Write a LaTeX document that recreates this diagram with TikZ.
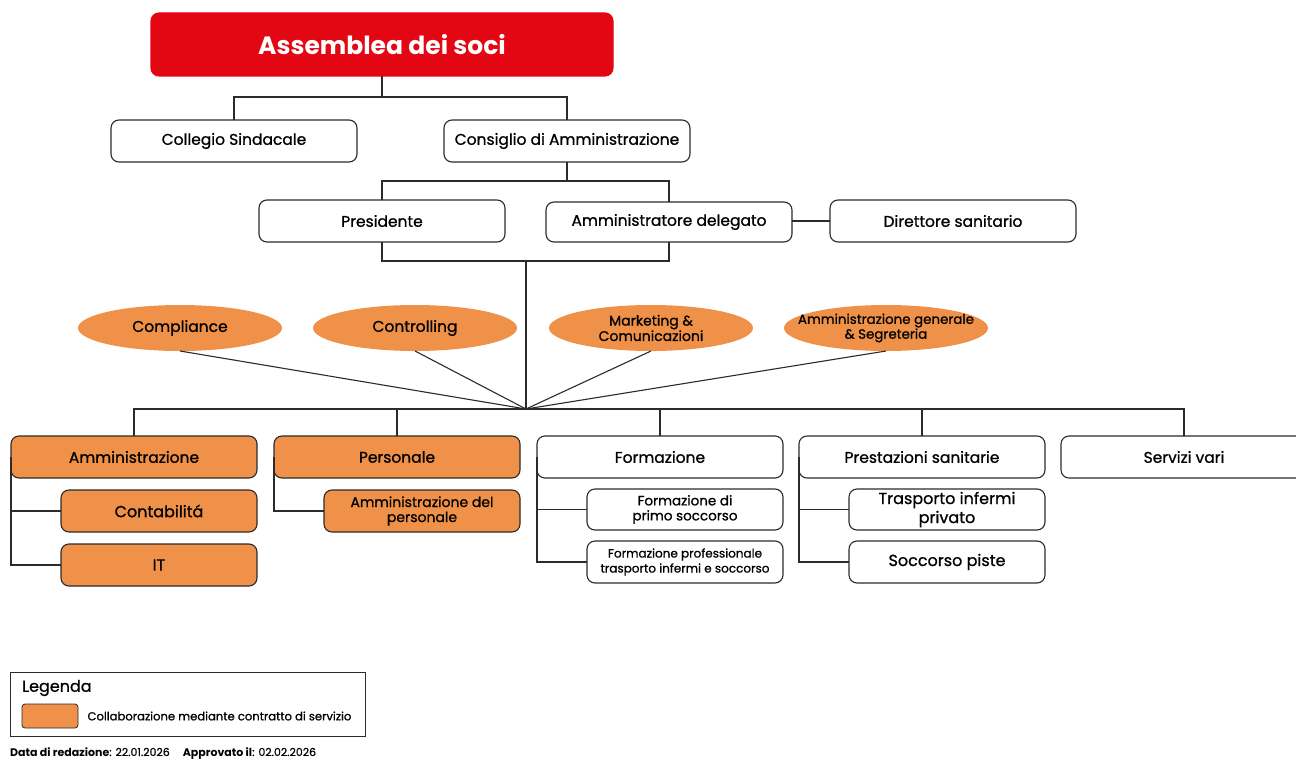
\documentclass[tikz,border=0pt]{standalone}
\usepackage{fontspec}
\setmainfont{Poppins}[UprightFeatures={FakeBold=0.9}]
\usetikzlibrary{positioning,shapes.geometric}
\definecolor{AssRed}{HTML}{E30613}
\definecolor{SrvOrange}{HTML}{F0914A}
\definecolor{LineGray}{HTML}{2B2B2B}

\begin{document}
\begin{tikzpicture}[x=1pt,y=-1pt,
                    box/.style={draw=LineGray, line width=1.1pt, rounded corners=8pt, align=center,
                                minimum width=246pt, minimum height=42pt, inner sep=1pt, outer sep=0pt,
                                font=\fontsize{15.5}{16}\selectfont},
                    orangebox/.style={box, fill=SrvOrange},
                    subbox/.style={box, minimum width=196pt},
                    oval/.style={ellipse, fill=SrvOrange, minimum width=204pt, minimum height=46pt,
                                 inner xsep=-30pt, inner ysep=0pt, outer sep=0pt, align=center,
                                 font=\fontsize{15.5}{15}\selectfont},
                    conn/.style={draw=LineGray, line width=1.1pt}]
\useasboundingbox (0,0) rectangle (1296,760);
% vertici
\node[box, draw=AssRed, fill=AssRed, text=white, minimum width=462pt, minimum height=63pt,
      font=\fontsize{25}{27}\selectfont\bfseries] (asm) at (382,44.5) {Assemblea dei soci};
\node[box] (cs) at (234,141) {Collegio Sindacale};
\node[box, right=87pt of cs] (cda) {Consiglio di Amministrazione};
\node[box] (pres) at (382,221) {Presidente};
\node[box, minimum height=40pt, right=41pt of pres.east, anchor=west, yshift=-1pt] (ad) {Amministratore delegato};
\node[box] (ds) at (953,221) {Direttore sanitario};
% staff
\node[oval] (comp) at (180,328) {Compliance};
\node[oval, right=31pt of comp] (ctrl) {Controlling};
\node[oval, right=32pt of ctrl, font=\fontsize{14}{12.5}\selectfont] (mkt) {Marketing \&\\Comunicazioni};
\node[oval, right=31pt of mkt, font=\fontsize{13.4}{12.5}\selectfont] (agen) {Amministrazione generale\\\& Segreteria};
\coordinate (hub) at (526,409);
% aree
\node[orangebox] (amm) at (134,457) {Amministrazione};
\node[orangebox, right=17pt of amm] (pers) {Personale};
\node[box, right=17pt of pers] (form) {Formazione};
\node[box, right=16pt of form] (prest) {Prestazioni sanitarie};
\node[box, right=16pt of prest] (serv) {Servizi vari};
% sottoaree
\node[orangebox, minimum width=196pt, below=12pt of amm.south east, anchor=north east,
      font=\fontsize{16}{16}\selectfont] (cont) {Contabilit\'a};
\node[orangebox, minimum width=196pt, below=12pt of cont, font=\fontsize{16}{16}\selectfont] (it) {IT};
\node[orangebox, minimum width=196pt, below=12pt of pers.south east, anchor=north east,
      font=\fontsize{14}{15}\selectfont] (ammp) {Amministrazione del\\personale};
\node[subbox, minimum height=41pt, below=11pt of form.south east, anchor=north east,
      font=\fontsize{13.5}{15}\selectfont] (fps) {Formazione di\\primo soccorso};
\node[subbox, below=11pt of fps, font=\fontsize{12}{15}\selectfont] (fpt) {Formazione professionale\\trasporto infermi e soccorso};
\node[subbox, minimum height=41pt, below=11pt of prest.south east, anchor=north east,
      font=\fontsize{16}{19}\selectfont] (tip) {Trasporto infermi\\privato};
\node[subbox, below=11pt of tip, font=\fontsize{16}{16}\selectfont] (sp) {Soccorso piste};
% connettori
\coordinate (j1) at (382,97);
\draw[conn] (asm.south) -- (j1);
\draw[conn] (cs.north) |- (j1) -| (cda.north);
\coordinate (j2) at (567,181);
\draw[conn] (cda.south) -- (j2);
\draw[conn] (pres.north) |- (j2) -| (ad.north);
\draw[conn] (pres.south) -- ++(0,19) coordinate (j3) -| (ad.south);
\draw[conn] (ds.west) -- (ds.west -| ad.east);
\draw[conn] (hub |- j3) -- (hub);
\foreach \s in {comp,ctrl,mkt,agen}
  \draw[conn] (\s.south) -- (hub);
\draw[conn] (amm.north) |- (hub) -| (serv.north);
\foreach \a in {pers,form,prest}
  \draw[conn] (\a.north) -- (\a.north |- hub);
\draw[conn] (amm.west) |- (it.west);
\draw[conn] (amm.west |- cont.west) -- (cont.west);
\draw[conn] (pers.west) |- (ammp.west);
\draw[conn, line width=1.6pt] (form.west) |- (fpt.west);
\draw[conn, line width=1.6pt] (form.west |- fps.west) -- (fps.west);
\draw[conn] (prest.west) |- (sp.west);
\draw[conn] (prest.west |- tip.west) -- (tip.west);
% legenda
\node[draw=LineGray, line width=0.9pt, minimum width=355pt, minimum height=64pt] (leg) at (187.5,704) {};
\node[anchor=west, inner sep=0pt, font=\fontsize{16}{16}\selectfont] (legt) at (22,688) {Legenda};
\node[draw=LineGray, line width=0.8pt, fill=SrvOrange, rounded corners=3pt, minimum width=56pt,
      minimum height=24pt, inner sep=0pt] (sw) at (50,716) {};
\node[right=9pt of sw, inner sep=0pt, font=\fontsize{11.6}{12}\selectfont] (swt) {Collaborazione mediante contratto di servizio};
\node[anchor=base west, inner sep=0pt, font=\fontsize{11}{11}\selectfont] (date) at (10,756)
  {\textbf{Data di redazione}: 22.01.2026\hspace{13pt}\textbf{Approvato il}: 02.02.2026};
\end{tikzpicture}
\end{document}
